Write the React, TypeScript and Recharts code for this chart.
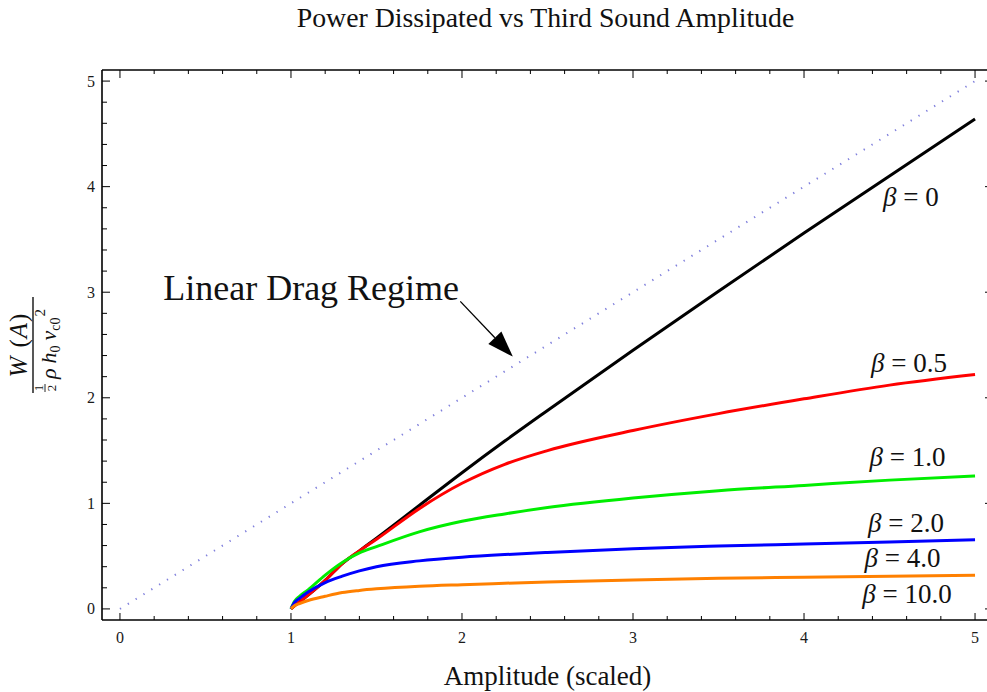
import React from "react";
import {
  LineChart,
  Line,
  XAxis,
  YAxis,
  ReferenceDot,
  ReferenceLine,
} from "recharts";

// amplitude samples (scaled) shared by every beta curve
const amplitude = [1, 1.02, 1.05, 1.1, 1.2, 1.3, 1.4, 1.5, 1.75, 2, 2.25, 2.5, 3, 3.5, 4, 4.5, 5];

// power dissipated for each beta
const betaZero = [0, 0.03, 0.065, 0.13, 0.27, 0.43, 0.55, 0.67, 0.98, 1.29, 1.59, 1.88, 2.45, 3.01, 3.56, 4.1, 4.64];
const betaHalf = [0, 0.03, 0.065, 0.13, 0.27, 0.43, 0.55, 0.66, 0.95, 1.19, 1.37, 1.5, 1.69, 1.85, 1.99, 2.12, 2.22];
const betaOne = [0, 0.07, 0.12, 0.18, 0.32, 0.44, 0.53, 0.59, 0.73, 0.83, 0.9, 0.96, 1.05, 1.12, 1.17, 1.22, 1.26];
const betaTwo = [0, 0.06, 0.1, 0.16, 0.25, 0.31, 0.36, 0.4, 0.455, 0.49, 0.515, 0.535, 0.57, 0.595, 0.615, 0.635, 0.655];
const betaFour = [0, 0.03, 0.05, 0.08, 0.12, 0.155, 0.175, 0.19, 0.215, 0.23, 0.243, 0.255, 0.275, 0.29, 0.3, 0.31, 0.32];

// linear drag regime reference line
const linearAmplitude = [0, 5];
const linearPower = [0, 5];

const axisTicks = [
  0, 0.2, 0.4, 0.6, 0.8, 1, 1.2, 1.4, 1.6, 1.8, 2, 2.2, 2.4, 2.6, 2.8, 3,
  3.2, 3.4, 3.6, 3.8, 4, 4.2, 4.4, 4.6, 4.8, 5,
];

const curveLabels = ["0", "0.5", "1.0", "2.0", "4.0", "10.0"];
const curveLabelX = [4.625, 4.614, 4.605, 4.596, 4.576, 4.602];
const curveLabelY = [3.82, 2.24, 1.35, 0.733, 0.4, 0.057];

const domain: [number, number] = [-0.105, 5.105];
const serif = "'Liberation Serif', 'Times New Roman', serif";

const toPoints = (xs: number[], ys: number[]) => xs.map((a, i) => ({ a, w: ys[i] }));

const series = [
  { name: "b0", values: betaZero, color: "#000000" },
  { name: "b05", values: betaHalf, color: "#ff0000" },
  { name: "b1", values: betaOne, color: "#00ee00" },
  { name: "b2", values: betaTwo, color: "#0000ff" },
  { name: "b4", values: betaFour, color: "#ff8000" },
];

const isMajor = (v: number) => Number.isInteger(v);

const BottomTick = (props: any) => {
  const { x, y, payload } = props;
  const major = isMajor(payload.value);
  return (
    <g>
      <line x1={x} y1={y} x2={x} y2={y - (major ? 7 : 4)} stroke="#000" strokeWidth={1} />
      {major && (
        <text x={x} y={y + 23} textAnchor="middle" fontFamily={serif} fontSize={16} fill="#1a1a1a">
          {payload.value}
        </text>
      )}
    </g>
  );
};

const TopTick = (props: any) => {
  const { x, y, payload } = props;
  const major = isMajor(payload.value);
  return <line x1={x} y1={y} x2={x} y2={y + (major ? 8 : 4)} stroke="#000" strokeWidth={1} />;
};

const LeftTick = (props: any) => {
  const { x, y, payload } = props;
  const major = isMajor(payload.value);
  return (
    <g>
      <line x1={x} y1={y} x2={x + (major ? 8 : 5)} y2={y} stroke="#000" strokeWidth={1} />
      {major && (
        <text x={x - 7} y={y + 5.5} textAnchor="end" fontFamily={serif} fontSize={16} fill="#1a1a1a">
          {payload.value}
        </text>
      )}
    </g>
  );
};

const RightTick = (props: any) => {
  const { x, y, payload } = props;
  const major = isMajor(payload.value);
  return <line x1={x} y1={y} x2={x - (major ? 8 : 5)} y2={y} stroke="#000" strokeWidth={1} />;
};

// x axis title plus the chart title above the frame
const renderXLabel = (props: any) => {
  const vb = props.viewBox;
  const mid = vb.x + vb.width / 2;
  return (
    <g fontFamily={serif} fill="#111">
      <text x={mid} y={vb.y + 65} textAnchor="middle" fontSize={27}>
        Amplitude (scaled)
      </text>
      <text x={mid - 2} y={vb.y - 593} textAnchor="middle" fontSize={27.8}>
        Power Dissipated vs Third Sound Amplitude
      </text>
    </g>
  );
};

const renderYLabel = (props: any) => {
  const vb = props.viewBox;
  const cx = vb.x + 33;
  const cy = vb.y + vb.height / 2;
  return (
    <g transform={`translate(${cx},${cy}) rotate(-90)`} fontFamily={serif} fill="#111">
      <text x={0} y={-6} textAnchor="middle" fontSize={25} letterSpacing={1}>
        <tspan fontStyle="italic">W</tspan>
        <tspan dx={8}>(</tspan>
        <tspan fontStyle="italic">A</tspan>
        <tspan>)</tspan>
      </text>
      <line x1={-48} y1={0} x2={48} y2={0} stroke="#111" strokeWidth={1.4} />
      <text x={-43} y={10} textAnchor="middle" fontSize={13}>1</text>
      <line x1={-47} y1={12} x2={-39} y2={12} stroke="#111" strokeWidth={0.9} />
      <text x={-43} y={23} textAnchor="middle" fontSize={13}>2</text>
      <text x={-34} y={23} fontSize={22}>
        <tspan fontStyle="italic">ρ</tspan>
        <tspan dx={5} fontStyle="italic">h</tspan>
        <tspan fontSize={14} dy={4}>0</tspan>
        <tspan dx={5} dy={-4} fontStyle="italic">v</tspan>
        <tspan fontSize={14} dy={4}>c0</tspan>
        <tspan fontSize={15} dx={1} dy={-15}>2</tspan>
      </text>
    </g>
  );
};

const makeCurveLabel = (text: string) => (props: any) => {
  const vb = props.viewBox;
  return (
    <text x={vb.x} y={vb.y} textAnchor="middle" fontFamily={serif} fontSize={27} fill="#111">
      <tspan fontStyle="italic">β</tspan> = {text}
    </text>
  );
};

const renderRegimeLabel = (props: any) => {
  const vb = props.viewBox;
  return (
    <text x={vb.x} y={vb.y} textAnchor="middle" fontFamily={serif} fontSize={36} fill="#111">
      Linear Drag Regime
    </text>
  );
};

const ArrowShape = (props: any) => {
  const { x1, y1, x2, y2 } = props;
  const dx = x2 - x1;
  const dy = y2 - y1;
  const len = Math.sqrt(dx * dx + dy * dy) || 1;
  const ux = dx / len;
  const uy = dy / len;
  const headLen = 26;
  const half = 9;
  const bx = x2 - ux * headLen;
  const by = y2 - uy * headLen;
  const pts = `${x2},${y2} ${bx - uy * half},${by + ux * half} ${bx + uy * half},${by - ux * half}`;
  return (
    <g>
      <line x1={x1} y1={y1} x2={bx} y2={by} stroke="#000" strokeWidth={1.3} />
      <polygon points={pts} fill="#000" />
    </g>
  );
};

export default function App() {
  return (
    <div
      style={{
        position: "absolute",
        left: 0,
        top: 0,
        width: 987,
        height: 692,
        overflow: "hidden",
        background: "#fff",
      }}
    >
      <LineChart width={995} height={692} margin={{ top: 69, right: 1, bottom: 0, left: 0 }}>
        <XAxis
          xAxisId="bottom"
          dataKey="a"
          type="number"
          orientation="bottom"
          domain={domain}
          allowDataOverflow
          ticks={axisTicks}
          interval={0}
          height={72}
          tickSize={0}
          tickMargin={0}
          tickLine={false}
          axisLine={{ stroke: "#000", strokeWidth: 1.6 }}
          tick={BottomTick}
          label={renderXLabel}
        />
        <XAxis
          xAxisId="top"
          dataKey="a"
          type="number"
          orientation="top"
          domain={domain}
          allowDataOverflow
          ticks={axisTicks}
          interval={0}
          height={1}
          tickSize={0}
          tickMargin={0}
          tickLine={false}
          axisLine={{ stroke: "#000", strokeWidth: 1.6 }}
          tick={TopTick}
        />
        <YAxis
          yAxisId="left"
          type="number"
          domain={domain}
          allowDataOverflow
          ticks={axisTicks}
          interval={0}
          width={102}
          tickSize={0}
          tickMargin={0}
          tickLine={false}
          axisLine={{ stroke: "#000", strokeWidth: 1.6 }}
          tick={LeftTick}
          label={renderYLabel}
        />
        <YAxis
          yAxisId="right"
          type="number"
          orientation="right"
          domain={domain}
          allowDataOverflow
          ticks={axisTicks}
          interval={0}
          width={1}
          tickSize={0}
          tickMargin={0}
          tickLine={false}
          axisLine={{ stroke: "#000", strokeWidth: 1.6 }}
          tick={RightTick}
        />
        <Line
          xAxisId="bottom"
          yAxisId="left"
          data={toPoints(linearAmplitude, linearPower)}
          dataKey="w"
          type="linear"
          stroke="#7f7fdc"
          strokeWidth={2}
          strokeDasharray="1.3 7.9"
          dot={false}
          activeDot={false}
          isAnimationActive={false}
        />
        {/* invisible helper series so the top / right frame axes get rendered */}
        <Line
          xAxisId="top"
          yAxisId="right"
          data={toPoints(linearAmplitude, linearPower)}
          dataKey="w"
          stroke="none"
          dot={false}
          activeDot={false}
          isAnimationActive={false}
        />
        {series.map((s) => (
          <Line
            key={s.name}
            xAxisId="bottom"
            yAxisId="left"
            data={toPoints(amplitude, s.values)}
            dataKey="w"
            type="monotone"
            stroke={s.color}
            strokeWidth={3}
            dot={false}
            activeDot={false}
            isAnimationActive={false}
          />
        ))}
        <ReferenceLine
          xAxisId="bottom"
          yAxisId="left"
          segment={[
            { x: 1.99, y: 2.913 },
            { x: 2.297, y: 2.39 },
          ]}
          shape={ArrowShape}
        />
        <ReferenceDot
          xAxisId="bottom"
          yAxisId="left"
          x={1.118}
          y={2.93}
          r={0}
          fill="none"
          stroke="none"
          label={renderRegimeLabel}
        />
        {curveLabels.map((t, i) => (
          <ReferenceDot
            key={t}
            xAxisId="bottom"
            yAxisId="left"
            x={curveLabelX[i]}
            y={curveLabelY[i]}
            r={0}
            fill="none"
            stroke="none"
            label={makeCurveLabel(t)}
          />
        ))}
      </LineChart>
    </div>
  );
}
